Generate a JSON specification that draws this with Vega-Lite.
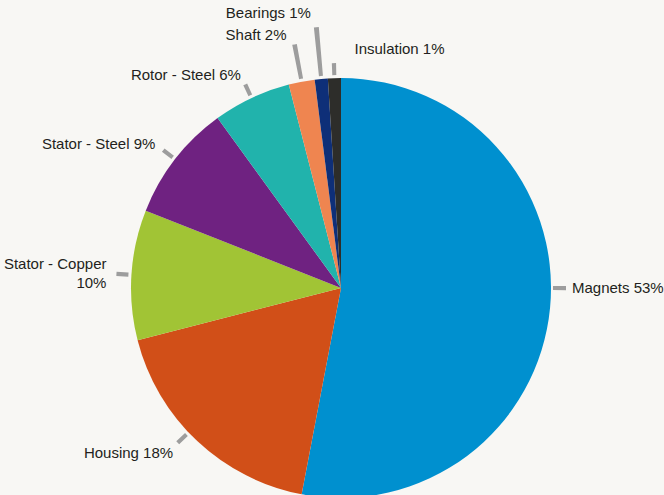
{
  "$schema": "https://vega.github.io/schema/vega-lite/v6.json",
  "width": 646,
  "height": 414,
  "autosize": {"type": "none"},
  "padding": {"left": 18, "top": 81, "right": 0, "bottom": 0},
  "background": "#f8f7f4",
  "config": {"view": {"stroke": null}, "text": {"font": "Liberation Sans", "fontSize": 15, "color": "#231f20"}},
  "data": {
    "values": [
      {"part": "Magnets", "label": "Magnets 53%", "value": 53, "order": 1},
      {"part": "Housing", "label": "Housing 18%", "value": 18, "order": 2},
      {"part": "Stator - Copper", "label": "Stator - Copper\n10%", "value": 10, "order": 3},
      {"part": "Stator - Steel", "label": "Stator - Steel 9%", "value": 9, "order": 4},
      {"part": "Rotor - Steel", "label": "Rotor - Steel 6%", "value": 6, "order": 5},
      {"part": "Shaft", "label": "Shaft 2%", "value": 2, "order": 6},
      {"part": "Bearings", "label": "Bearings 1%", "value": 1, "order": 7},
      {"part": "Insulation", "label": "Insulation 1%", "value": 1, "order": 8}
    ]
  },
  "transform": [
    {"stack": "value", "groupby": [], "sort": [{"field": "order", "order": "ascending"}], "as": ["v0", "v1"]},
    {"calculate": "(datum.v0 + datum.v1) / 2", "as": "mid"},
    {"calculate": "datum.mid - 0.15", "as": "lo"},
    {"calculate": "datum.mid + 0.15", "as": "hi"}
  ],
  "layer": [
    {
      "mark": {"type": "arc", "outerRadius": 210},
      "encoding": {
        "theta": {"field": "v0", "type": "quantitative", "stack": null, "scale": {"domain": [0, 100]}},
        "theta2": {"field": "v1"},
        "color": {
          "field": "part", "type": "nominal", "legend": null,
          "scale": {
            "domain": ["Magnets", "Housing", "Stator - Copper", "Stator - Steel", "Rotor - Steel", "Shaft", "Bearings", "Insulation"],
            "range": ["#0090cf", "#d14f18", "#a1c435", "#6f2281", "#21b3ac", "#ef8550", "#0e2f78", "#2d2d2a"]
          }
        }
      }
    },
    {
      "transform": [{"filter": "indexof(['Stator - Copper','Stator - Steel','Rotor - Steel','Insulation'], datum.part) >= 0"}],
      "mark": {"type": "arc", "outerRadius": 225, "innerRadius": 213, "color": "#9d9d9d"},
      "encoding": {
        "theta": {"field": "lo", "type": "quantitative", "stack": null},
        "theta2": {"field": "hi"}
      }
    },
    {
      "transform": [{"filter": "datum.part == 'Magnets'"}],
      "mark": {"type": "arc", "outerRadius": 225, "innerRadius": 212, "color": "#9d9d9d", "thetaOffset": -0.094, "theta2Offset": -0.094},
      "encoding": {
        "theta": {"field": "lo", "type": "quantitative", "stack": null},
        "theta2": {"field": "hi"}
      }
    },
    {
      "transform": [{"filter": "datum.part == 'Housing'"}],
      "mark": {"type": "arc", "outerRadius": 225, "innerRadius": 213, "color": "#9d9d9d", "thetaOffset": 0.058, "theta2Offset": 0.058},
      "encoding": {
        "theta": {"field": "lo", "type": "quantitative", "stack": null},
        "theta2": {"field": "hi"}
      }
    },
    {
      "transform": [{"filter": "datum.part == 'Shaft'"}],
      "mark": {"type": "arc", "outerRadius": 248, "innerRadius": 213, "color": "#9d9d9d"},
      "encoding": {
        "theta": {"field": "lo", "type": "quantitative", "stack": null},
        "theta2": {"field": "hi"}
      }
    },
    {
      "transform": [{"filter": "datum.part == 'Bearings'"}],
      "mark": {"type": "arc", "outerRadius": 262, "innerRadius": 213, "color": "#9d9d9d"},
      "encoding": {
        "theta": {"field": "lo", "type": "quantitative", "stack": null},
        "theta2": {"field": "hi"}
      }
    },
    {
      "transform": [{"filter": "indexof(['Stator - Steel','Rotor - Steel'], datum.part) >= 0"}],
      "mark": {"type": "text", "radius": 235, "align": "right", "baseline": "middle"},
      "encoding": {
        "theta": {"field": "mid", "type": "quantitative", "stack": null},
        "text": {"field": "label"}
      }
    },
    {
      "transform": [{"filter": "datum.part == 'Housing'"}],
      "mark": {"type": "text", "radius": 235, "align": "right", "baseline": "middle", "dx": -7, "dy": -6},
      "encoding": {
        "theta": {"field": "mid", "type": "quantitative", "stack": null},
        "text": {"field": "label"}
      }
    },
    {
      "transform": [{"filter": "datum.part == 'Stator - Copper'"}],
      "mark": {"type": "text", "radius": 235, "align": "right", "baseline": "middle", "lineBreak": "\n", "lineHeight": 19, "dy": -9},
      "encoding": {
        "theta": {"field": "mid", "type": "quantitative", "stack": null},
        "text": {"field": "label"}
      }
    },
    {
      "transform": [{"filter": "datum.part == 'Magnets'"}],
      "mark": {"type": "text", "radius": 232, "align": "left", "baseline": "middle", "dy": -22},
      "encoding": {
        "theta": {"field": "mid", "type": "quantitative", "stack": null},
        "text": {"field": "label"}
      }
    },
    {
      "transform": [{"filter": "datum.part == 'Shaft'"}],
      "mark": {"type": "text", "radius": 259, "align": "right", "baseline": "middle", "dx": -6, "dy": 1},
      "encoding": {
        "theta": {"field": "mid", "type": "quantitative", "stack": null},
        "text": {"field": "label"}
      }
    },
    {
      "transform": [{"filter": "datum.part == 'Bearings'"}],
      "mark": {"type": "text", "radius": 277, "align": "right", "baseline": "middle", "dx": -4, "dy": 1},
      "encoding": {
        "theta": {"field": "mid", "type": "quantitative", "stack": null},
        "text": {"field": "label"}
      }
    },
    {
      "transform": [{"filter": "datum.part == 'Insulation'"}],
      "mark": {"type": "text", "radius": 240, "align": "left", "baseline": "middle", "dx": 21, "dy": 1},
      "encoding": {
        "theta": {"field": "mid", "type": "quantitative", "stack": null},
        "text": {"field": "label"}
      }
    }
  ]
}
